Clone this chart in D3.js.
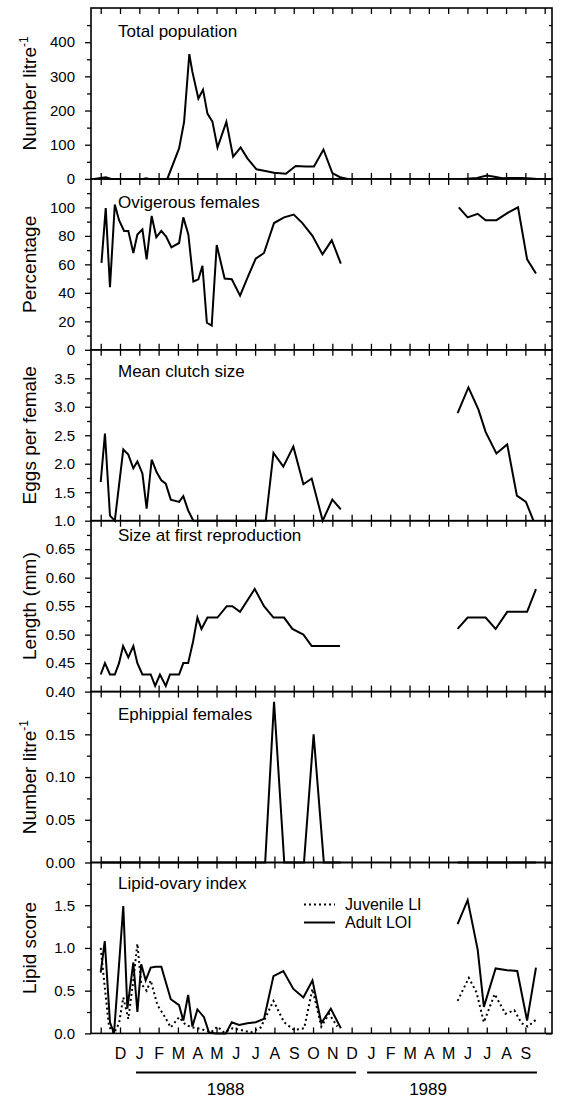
<!DOCTYPE html>
<html><head><meta charset="utf-8">
<script src="https://cdn.jsdelivr.net/npm/d3@7"></script>
<style>
body{margin:0;background:#fff}
svg{display:block}
text{font-family:"Liberation Sans",Arial,Helvetica,sans-serif;fill:#000}
</style>
</head><body>
<svg id="chart" width="561" height="1099"></svg>
<script>
// time axis: t = months since 1 Nov 1987 (tick 0 = Nov 1987)
const monthTicks = d3.range(0, 24);
const monthLabels = ["","D","J","F","M","A","M","J","J","A","S","O","N","D","J","F","M","A","M","J","J","A","S",""];
const years = ["1988", "1989"];

// Total population (number per litre)
const popT = [-0.35,0.26,0.55,2.2,2.35,2.5,3.45,4.06,4.32,4.59,4.75,5.06,5.30,5.53,5.79,6.05,6.51,6.86,7.25,7.6,8.07,8.46,8.98,9.59,10.1,10.6,11.05,11.54,12.0,12.4,12.8,null,18.8,19.5,20.0,20.4,20.8,21.3,21.8,22.3,22.6];
const popV = [0,5,0,0,2,0,0,89,167,365,313,235,261,191,167,92,167,65,92,60,28,24,18,15,38,36,36,86,17,5,0,null,0,3,10,6,2,3,3,1,0];

// Ovigerous females (%)
const oviT = [0.04,0.26,0.48,0.73,0.95,1.21,1.43,1.69,1.9,2.16,2.38,2.64,2.88,3.14,3.39,3.66,4.06,4.28,4.54,4.8,5.06,5.27,5.5,5.75,6.01,6.42,6.79,7.22,7.6,8.03,8.46,8.98,9.5,10.0,10.45,10.97,11.49,11.97,12.44,null,18.55,19.01,19.53,19.94,20.5,21.06,21.62,22.09,22.55];
const oviV = [61,99.5,44,102,91,83.5,83.5,68,81,84.5,63.5,94,79,83.5,79.5,72,75,93,81,48,49.5,59,19,17,73.6,50,49.5,38,50.5,64,68,89,93,95,89,80,67,77,60.5,null,100,93,95.5,91,91,96,100,63.5,53.6];

// Mean clutch size (eggs per female)
const clutchT = [0,0.22,0.48,0.73,1.17,1.43,1.69,1.9,2.16,2.38,2.64,2.9,3.14,3.37,3.63,4.06,4.28,4.53,4.8,8.55,8.95,9.46,9.98,10.5,10.93,11.5,12.0,12.44,null,18.49,19.05,19.57,19.94,20.5,21.06,21.56,22.03,22.42];
const clutchV = [1.68,2.53,1.09,1.0,2.25,2.16,1.92,2.04,1.83,1.21,2.07,1.85,1.71,1.65,1.37,1.33,1.43,1.18,1.0,1.0,2.19,1.95,2.30,1.64,1.74,1.0,1.37,1.2,null,2.89,3.34,2.95,2.56,2.18,2.34,1.44,1.33,1.0];

// Size at first reproduction (mm)
const sizeT = [0,0.22,0.48,0.73,0.95,1.16,1.43,1.69,1.9,2.16,2.59,2.82,3.07,3.37,3.59,4.06,4.28,4.53,4.78,5.01,5.22,5.53,6.05,6.53,6.82,7.22,7.98,8.46,8.95,9.5,9.93,10.5,10.93,12.4,null,18.49,19.01,19.94,20.46,21.06,22.09,22.55];
const sizeV = [0.43,0.45,0.43,0.43,0.45,0.48,0.46,0.48,0.45,0.43,0.43,0.41,0.43,0.41,0.43,0.43,0.45,0.45,0.487,0.53,0.51,0.53,0.53,0.55,0.55,0.54,0.58,0.55,0.53,0.53,0.51,0.50,0.48,0.48,null,0.51,0.53,0.53,0.51,0.54,0.54,0.58];

// Ephippial females (number per litre)
const ephT = [0,8.52,8.98,9.51,10.53,11.03,11.56,12.44,null,18.49,22.55];
const ephV = [0,0,0.188,0,0,0.15,0,0,null,0,0];

// Lipid-ovary index
const adultT = [0,0.21,0.48,0.69,1.17,1.38,1.69,1.9,2.1,2.33,2.59,2.85,3.14,3.63,4.06,4.28,4.53,4.75,5.01,5.35,5.61,5.96,6.48,6.79,7.17,7.6,8.03,8.46,8.95,9.46,9.98,10.5,10.97,11.43,11.92,12.44,null,18.49,19.01,19.53,19.85,20.46,21.06,21.58,22.09,22.55];
const adultV = [0.71,1.08,0.13,0,1.49,0.29,0.83,0.25,0.81,0.62,0.77,0.78,0.78,0.40,0.33,0.15,0.45,0.08,0.28,0.19,0.01,0,0,0.13,0.10,0.12,0.13,0.17,0.67,0.73,0.52,0.42,0.62,0.12,0.29,0.06,null,1.28,1.56,0.98,0.31,0.76,0.74,0.73,0.15,0.77];
const juvT = [0,0.21,0.43,0.69,0.95,1.17,1.43,1.69,1.9,2.1,2.38,2.59,2.94,3.28,3.63,4.06,4.4,4.75,5.01,5.35,5.7,6.05,6.39,6.82,7.25,7.77,8.29,8.95,9.5,10.02,10.54,10.97,11.43,11.83,12.26,null,18.49,19.07,19.47,19.85,20.41,20.97,21.43,21.8,22.13,22.55];
const juvV = [1.0,0.54,0.08,0,0.12,0.42,0.17,0.62,1.05,0.58,0.5,0.62,0.33,0.21,0.07,0.19,0.10,0.07,0.06,0.04,0.01,0.08,0.01,0.06,0.04,0.01,0.07,0.38,0.13,0.04,0.06,0.52,0.08,0.23,0.08,null,0.38,0.65,0.48,0.13,0.46,0.23,0.27,0.12,0.08,0.16];

const legendLabels = ["Juvenile LI", "Adult LOI"];

// ---------- layout ----------
const svg = d3.select("#chart");
const L = 91, R = 552, TOP = 8, PH = 170.9;
const x = d3.scaleLinear().domain([-0.503, 23.38]).range([L, R]);
const FONT = '"Liberation Sans",Arial,Helvetica,sans-serif';

const panels = [
  {title:"Number litre", sup:"-1", label:"Total population", domain:[0,500], major:d3.range(0,401,100), minor:50, fmt:d3.format("d"), lab:29, series:[{t:popT,v:popV}]},
  {title:"Percentage", label:"Ovigerous females", domain:[0,120], major:d3.range(0,101,20), minor:10, fmt:d3.format("d"), lab:29, series:[{t:oviT,v:oviV}]},
  {title:"Eggs per female", label:"Mean clutch size", domain:[1,4], major:[1,1.5,2,2.5,3,3.5], minor:0.25, fmt:d3.format(".1f"), lab:27, series:[{t:clutchT,v:clutchV}]},
  {title:"Length (mm)", label:"Size at first reproduction", domain:[0.4,0.7], major:[0.4,0.45,0.5,0.55,0.6,0.65], minor:0.025, fmt:d3.format(".2f"), lab:20, series:[{t:sizeT,v:sizeV}]},
  {title:"Number litre", sup:"-1", label:"Ephippial females", domain:[0,0.2], major:[0,0.05,0.1,0.15], minor:0.025, fmt:d3.format(".2f"), lab:28, series:[{t:ephT,v:ephV}]},
  {title:"Lipid score", label:"Lipid-ovary index", domain:[0,2], major:[0,0.5,1,1.5], minor:0.25, fmt:d3.format(".1f"), lab:26, series:[{t:juvT,v:juvV,dash:"2,3"},{t:adultT,v:adultV}]}
];

function clean(a) {
  a.select(".domain").remove();
  a.selectAll("line").attr("stroke-width", 1.3);
}

panels.forEach((p, i) => {
  const top = TOP + i * PH, bot = top + PH;
  const y = d3.scaleLinear().domain(p.domain).range([bot, top]);
  const g = svg.append("g");
  const n = Math.round((p.domain[1] - p.domain[0]) / p.minor);
  const minors = d3.range(1, n).map(k => +(p.domain[0] + k * p.minor).toFixed(4))
    .filter(v => !p.major.some(m => Math.abs(m - v) < 1e-6));

  // left axis: outward ticks with labels
  g.append("g").attr("transform", `translate(${L},0)`)
    .call(d3.axisLeft(y).tickValues(p.major).tickFormat(p.fmt).tickSize(6).tickPadding(10))
    .call(clean)
    .call(a => a.selectAll("text").style("font-size", "15px").style("font-family", FONT));
  g.append("g").attr("transform", `translate(${L},0)`)
    .call(d3.axisLeft(y).tickValues(minors).tickFormat("").tickSize(4))
    .call(clean);
  // right axis: inward ticks
  g.append("g").attr("transform", `translate(${R},0)`)
    .call(d3.axisRight(y).tickValues(p.major).tickFormat("").tickSize(-6))
    .call(clean);
  g.append("g").attr("transform", `translate(${R},0)`)
    .call(d3.axisRight(y).tickValues(minors).tickFormat("").tickSize(-3))
    .call(clean);
  // top & bottom month ticks (inward)
  g.append("g").attr("transform", `translate(0,${top})`)
    .call(d3.axisTop(x).tickValues(monthTicks).tickFormat("").tickSize(-6))
    .call(clean);
  g.append("g").attr("transform", `translate(0,${bot})`)
    .call(d3.axisBottom(x).tickValues(monthTicks).tickFormat("").tickSize(-6))
    .call(clean);

  // frame
  g.append("rect").attr("x", L).attr("y", top).attr("width", R - L).attr("height", PH)
    .attr("fill", "none").attr("stroke", "#000").attr("stroke-width", 1.6);

  // series
  p.series.forEach(s => {
    const pts = s.t.map((t, k) => ({t, v: s.v[k]}));
    const line = d3.line().defined(d => d.v != null && d.t != null)
      .x(d => x(d.t)).y(d => y(d.v));
    g.append("path").attr("d", line(pts)).attr("fill", "none").attr("stroke", "#000")
      .attr("stroke-width", 2).attr("stroke-linejoin", "miter")
      .attr("stroke-dasharray", s.dash || null);
  });

  // panel label
  g.append("text").attr("x", 118).attr("y", top + p.lab).text(p.label).style("font-size", "17px");

  // y title
  const cy = (top + bot) / 2;
  const tt = g.append("text").attr("transform", `translate(36,${cy}) rotate(-90)`)
    .attr("text-anchor", "middle").style("font-size", "19px");
  tt.append("tspan").text(p.title);
  if (p.sup) tt.append("tspan").attr("dy", -8).style("font-size", "12px").text(p.sup);
});

// month labels
const lastBot = TOP + 6 * PH;
svg.append("g").attr("transform", `translate(0,${lastBot})`)
  .call(d3.axisBottom(x).tickValues(monthTicks).tickFormat((d, i) => monthLabels[i]).tickSize(0).tickPadding(14))
  .call(a => { a.select(".domain").remove(); a.selectAll("text").style("font-size", "16px").style("font-family", FONT); });

// year bars
const yearSpan = [[1.83, 13.23, 6.47], [13.8, 22.6, 16.96]];
years.forEach((yr, i) => {
  const [a, b, c] = yearSpan[i];
  svg.append("line").attr("x1", x(a)).attr("x2", x(b)).attr("y1", lastBot + 39).attr("y2", lastBot + 39)
    .attr("stroke", "#000").attr("stroke-width", 2);
  svg.append("text").attr("x", x(c)).attr("y", lastBot + 62).attr("text-anchor", "middle")
    .style("font-size", "17px").text(yr);
});

// legend in lipid panel
const lTop = TOP + 5 * PH;
[["2,3"], [null]].forEach((d, i) => {
  const yy = lTop + 42 + i * 18;
  svg.append("line").attr("x1", 304).attr("x2", 335).attr("y1", yy).attr("y2", yy)
    .attr("stroke", "#000").attr("stroke-width", 2).attr("stroke-dasharray", d[0]);
  svg.append("text").attr("x", 345).attr("y", yy + 5).style("font-size", "16px").text(legendLabels[i]);
});
</script>
</body></html>
